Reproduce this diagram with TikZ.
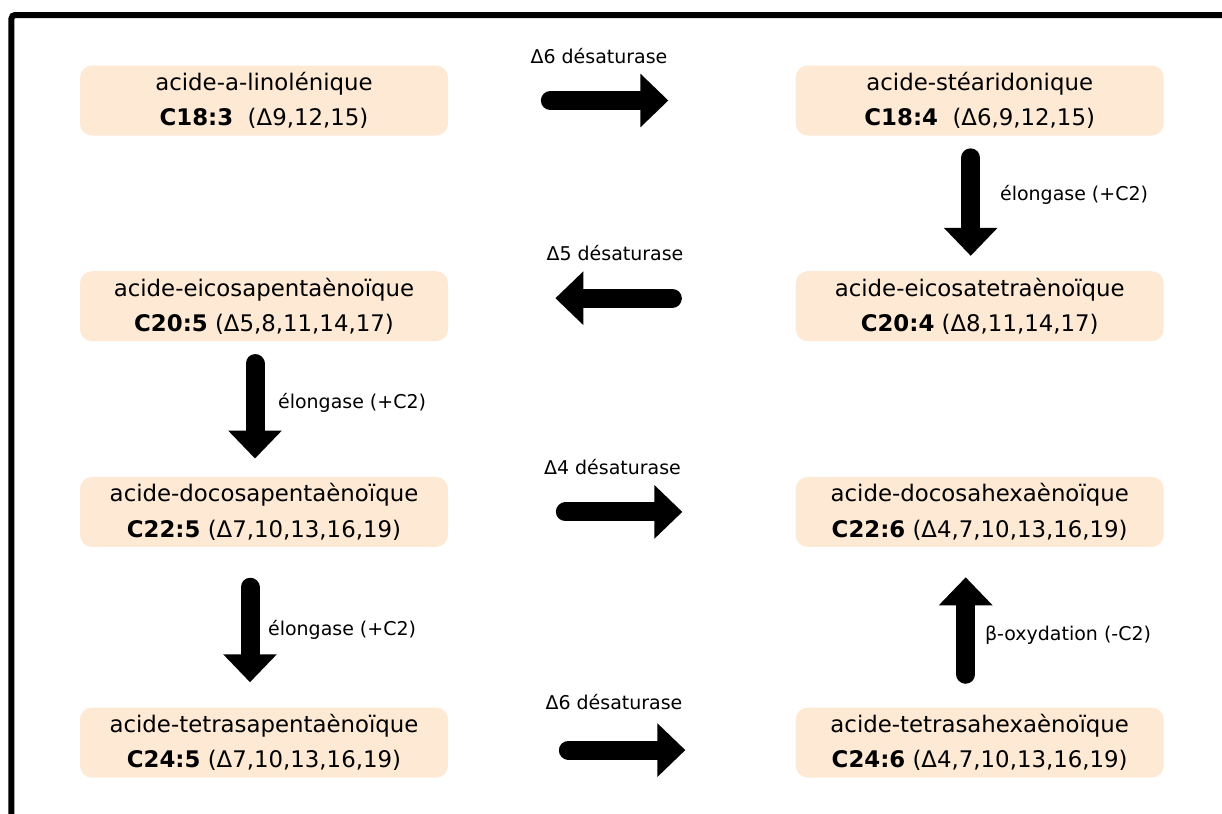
\documentclass[tikz,border=0pt]{standalone}
\usepackage{fontspec}
\setmainfont{DejaVu Sans}
\usetikzlibrary{arrows.meta, positioning}
\definecolor{peach}{RGB}{253,233,212}

\begin{document}
\begin{tikzpicture}[
  node distance=2.7cm and 6.94cm,
  acid/.style={rectangle, rounded corners=0.24cm, fill=peach, inner sep=0pt,
    minimum width=7.36cm, minimum height=1.4cm, align=center,
    font=\fontsize{13}{20}\selectfont},
  enz/.style={inner sep=1pt, font=\fontsize{10.8}{12}\selectfont},
  fleche/.style={line width=0.38cm, line cap=round,
    -{Triangle[length=0.56cm 0 0, width=1.04cm 0 0]}}]

  \useasboundingbox (0,0) rectangle (24.44,-16.28);
  \draw[line width=0.12cm, rounded corners=2pt] (0.23,-17) |- (25,-0.3);

  \node[acid] (ala) at (5.28,-2.01) {acide-a-linolénique\\\textbf{C18:3}\ \ (Δ9,12,15)};
  \node[acid, right=of ala] (sda) {acide-stéaridonique\\\textbf{C18:4}\ \ (Δ6,9,12,15)};
  \node[acid, below=of ala] (epa) {acide-eicosapentaènoïque\\\textbf{C20:5} (Δ5,8,11,14,17)};
  \node[acid, below=of sda] (eta) {acide-eicosatetraènoïque\\\textbf{C20:4} (Δ8,11,14,17)};
  \node[acid, below=of epa] (dpa) {acide-docosapentaènoïque\\\textbf{C22:5} (Δ7,10,13,16,19)};
  \node[acid, below=of eta] (dha) {acide-docosahexaènoïque\\\textbf{C22:6} (Δ4,7,10,13,16,19)};
  \node[acid, below=3.2cm of dpa] (tpa) {acide-tetrasapentaènoïque\\\textbf{C24:5} (Δ7,10,13,16,19)};
  \node[acid, below=3.2cm of dha] (tha) {acide-tetrasahexaènoïque\\\textbf{C24:6} (Δ4,7,10,13,16,19)};

  \draw[fleche, shorten <=2.04cm, shorten >=2.54cm] (ala) -- (sda);
  \draw[fleche, shorten <=0.44cm, shorten >=0.3cm] ([xshift=-0.18cm]sda.south) -- ([xshift=-0.18cm]eta.north);
  \draw[fleche, shorten <=2.46cm, shorten >=2.14cm] ([yshift=0.16cm]eta.west) -- ([yshift=0.16cm]epa.east);
  \draw[fleche, shorten <=0.44cm, shorten >=0.36cm] ([xshift=-0.18cm]epa.south) -- ([xshift=-0.18cm]dpa.north);
  \draw[fleche, shorten <=2.34cm, shorten >=2.26cm] (dpa) -- (dha);
  \draw[fleche, shorten <=0.8cm, shorten >=0.5cm] ([xshift=-0.28cm]dpa.south) -- ([xshift=-0.28cm]tpa.north);
  \draw[fleche, shorten <=0.66cm, shorten >=0.6cm] ([xshift=-0.28cm]tha.north) -- ([xshift=-0.28cm]dha.south);
  \draw[fleche, shorten <=2.4cm, shorten >=2.2cm] ([yshift=-0.15cm]tpa.east) -- ([yshift=-0.15cm]tha.west);

  \node[enz] (d6haut) at (11.98,-1.12) {Δ6 désaturase};
  \node[enz, anchor=west] (elong1) at (19.96,-3.9) {élongase (+C2)};
  \node[enz] (d5) at (12.3,-5.06) {Δ5 désaturase};
  \node[enz, anchor=west] (elong2) at (5.52,-8.06) {élongase (+C2)};
  \node[enz] (d4) at (12.25,-9.34) {Δ4 désaturase};
  \node[enz, anchor=west] (elong3) at (5.32,-12.6) {élongase (+C2)};
  \node[enz, anchor=west] (betaox) at (19.66,-12.7) {β-oxydation (-C2)};
  \node[enz] (d6bas) at (12.28,-14.04) {Δ6 désaturase};
\end{tikzpicture}
\end{document}
